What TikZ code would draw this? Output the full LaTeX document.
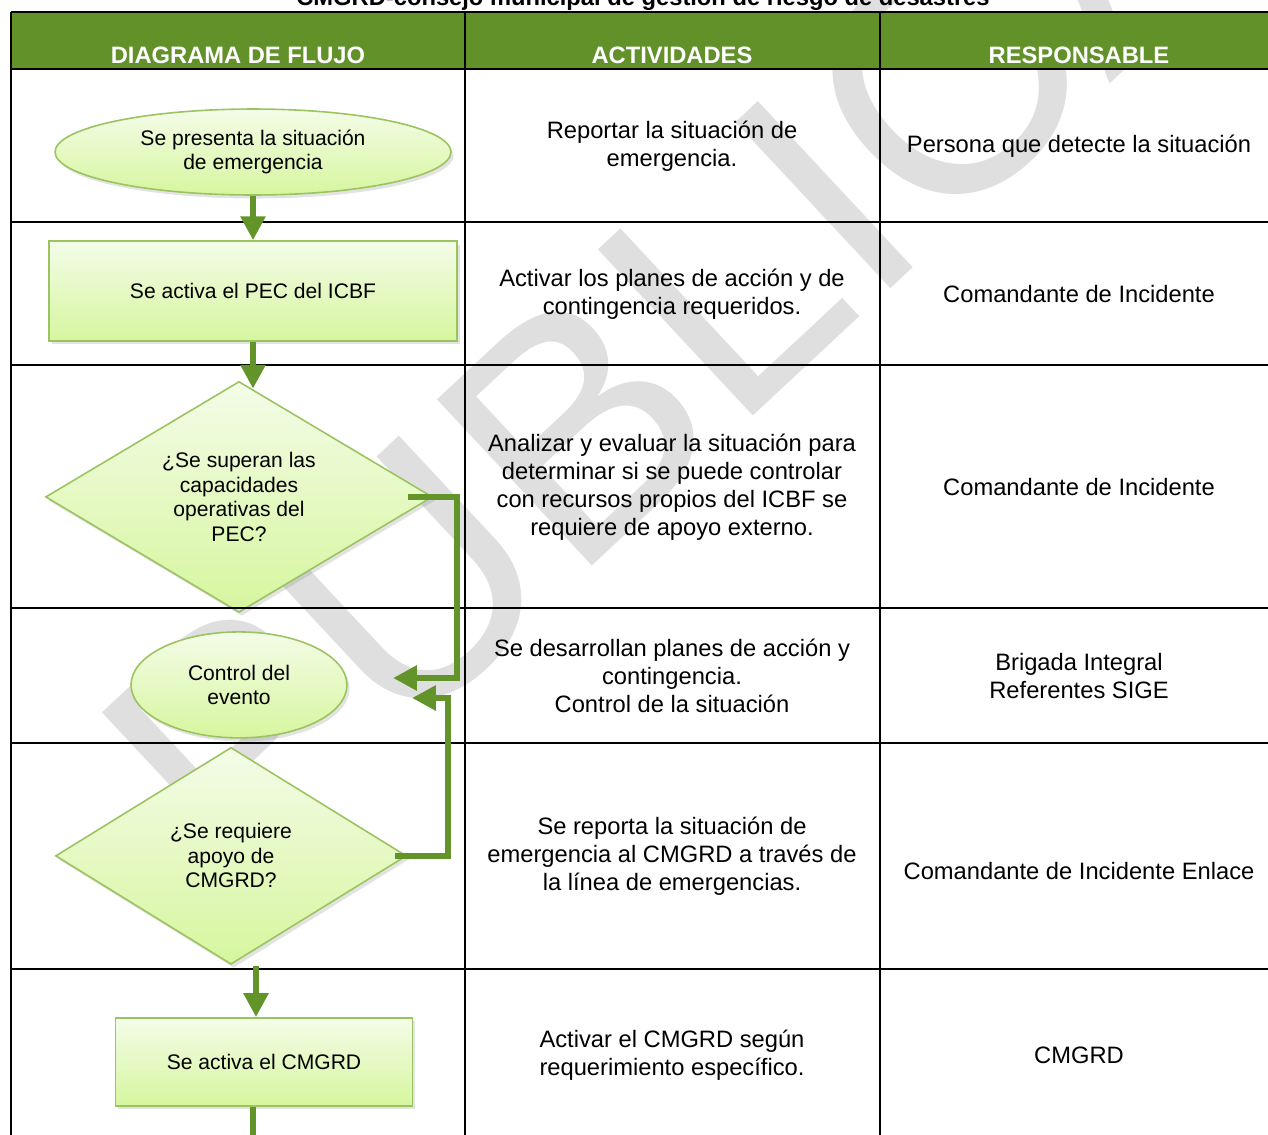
\documentclass[tikz,border=0pt]{standalone}
\usepackage{fontspec}
\setmainfont{Liberation Sans}
\usetikzlibrary{positioning, arrows.meta, shapes.geometric, shadows}

\definecolor{headgreen}{RGB}{98,145,42}
\definecolor{flowgreen}{RGB}{99,148,41}
\definecolor{boxline}{RGB}{155,195,95}
\definecolor{boxtop}{RGB}{244,252,232}
\definecolor{boxbottom}{RGB}{214,246,158}

\tikzset{
  box/.style={draw=boxline, line width=0.9pt, top color=boxtop, bottom color=boxbottom,
    align=center, inner sep=0pt, font=\fontsize{12}{13.9}\selectfont,
    drop shadow={shadow xshift=1.5pt, shadow yshift=-2pt, opacity=0.22}},
  startbox/.style={box, ellipse},
  procbox/.style={box, rectangle},
  decision/.style={box, diamond},
  celltext/.style={align=center, font=\fontsize{13.5}{15.9}\selectfont},
  headtext/.style={text=white, anchor=base, font=\bfseries\fontsize{13.5}{16}\selectfont},
  gridline/.style={draw=black, line width=1.1pt},
  flow/.style={draw=flowgreen, line width=3.6pt, -{Triangle[width=13.6pt,length=13.6pt]}},
  flowline/.style={draw=flowgreen, line width=3.6pt},
  watermark/.style={text=gray!25, inner sep=0pt, font=\fontsize{188}{188}\selectfont}
}

\begin{document}
\begin{tikzpicture}[x=0.02cm, y=-0.02cm, node distance=2cm, on grid]
  \useasboundingbox (0,0) rectangle (1268,1134);

  % marca de agua
  \node[watermark, rotate=43, anchor=base west] (wm) at (237,898) {PUBLICADO};

  % encabezado
  \fill[headgreen] (11,12) rectangle (1290,69);
  \node[font=\bfseries\fontsize{13.5}{16}\selectfont, anchor=base] (title) at (643,5)
    {CMGRD-consejo municipal de gestión de riesgo de desastres};
  \node[headtext] (hflujo) at (238,63) {DIAGRAMA DE FLUJO};
  \node[headtext] (hact) at (672,63) {ACTIVIDADES};
  \node[headtext] (hresp) at (1079,63) {RESPONSABLE};

  % diagrama
  \node[startbox, minimum width=7.92cm, minimum height=1.72cm] (e1) at (253,152)
    {Se presenta la situación\\de emergencia};
  \node[procbox, minimum width=8.16cm, minimum height=2cm] (r1) [below=2.78cm of e1]
    {Se activa el PEC del ICBF};
  \node[decision, minimum width=7.74cm, minimum height=4.62cm, aspect=1.67] (d1)
    [below=4.12cm of r1, xshift=-0.28cm]
    {¿Se superan las\\capacidades\\operativas del\\PEC?};
  \node[startbox, minimum width=4.32cm, minimum height=2.12cm] (ev) [below=3.76cm of d1]
    {Control del\\evento};
  \node[decision, minimum width=7.02cm, minimum height=4.34cm, aspect=1.62] (d2)
    [below=3.42cm of ev, xshift=-0.16cm]
    {¿Se requiere\\apoyo de\\CMGRD?};
  \node[procbox, minimum width=5.94cm, minimum height=1.76cm] (r2)
    [below=4.12cm of d2, xshift=0.66cm]
    {Se activa el CMGRD};

  % tabla
  \foreach \y in {12,69,222,365,608,743,969}
    \draw[gridline] (11,\y) -- (1290,\y);
  \foreach \x in {11,465,880}
    \draw[gridline] (\x,12) -- (\x,1145);

  % actividades
  \node[celltext] (act1) at (672,146) {Reportar la situación de\\emergencia.};
  \node[celltext] (act2) at (672,294) {Activar los planes de acción y de\\contingencia requeridos.};
  \node[celltext] (act3) at (672,487) {Analizar y evaluar la situación para\\determinar si se puede controlar\\con recursos propios del ICBF se\\requiere de apoyo externo.};
  \node[celltext] (act4) at (672,676) {Se desarrollan planes de acción y\\contingencia.\\Control de la situación};
  \node[celltext] (act5) at (672,856) {Se reporta la situación de\\emergencia al CMGRD a través de\\la línea de emergencias.};
  \node[celltext] (act6) at (672,1055) {Activar el CMGRD según\\requerimiento específico.};

  % responsables
  \node[celltext] (resp1) at (1079,146) {Persona que detecte la situación};
  \node[celltext] (resp2) at (1079,294) {Comandante de Incidente};
  \node[celltext] (resp3) at (1079,487) {Comandante de Incidente};
  \node[celltext] (resp4) at (1079,676) {Brigada Integral\\Referentes SIGE};
  \node[celltext] (resp5) at (1079,871) {Comandante de Incidente Enlace};
  \node[celltext] (resp6) at (1079,1055) {CMGRD};

  % conectores
  \coordinate (in1) at (393,678);
  \coordinate (in2) at (412,698);
  \coordinate (c2) at (256,966);
  \coordinate (c3) at (253,1145);

  \draw[flow] (e1.south) -- (e1.south |- r1.north);
  \draw[flow, shorten >=-0.16cm] (r1.south) -- (r1.south |- d1.north);
  \draw[flow] (c2) -- (c2 |- r2.north);
  \draw[flow] ([xshift=-0.5cm]d1.east) -- ++(49,0) |- (in1);
  \draw[flow] ([xshift=-0.24cm]d2.east) -- ++(53,0) |- (in2);
  \draw[flowline] (r2.south -| c3) -- (c3);
\end{tikzpicture}
\end{document}
